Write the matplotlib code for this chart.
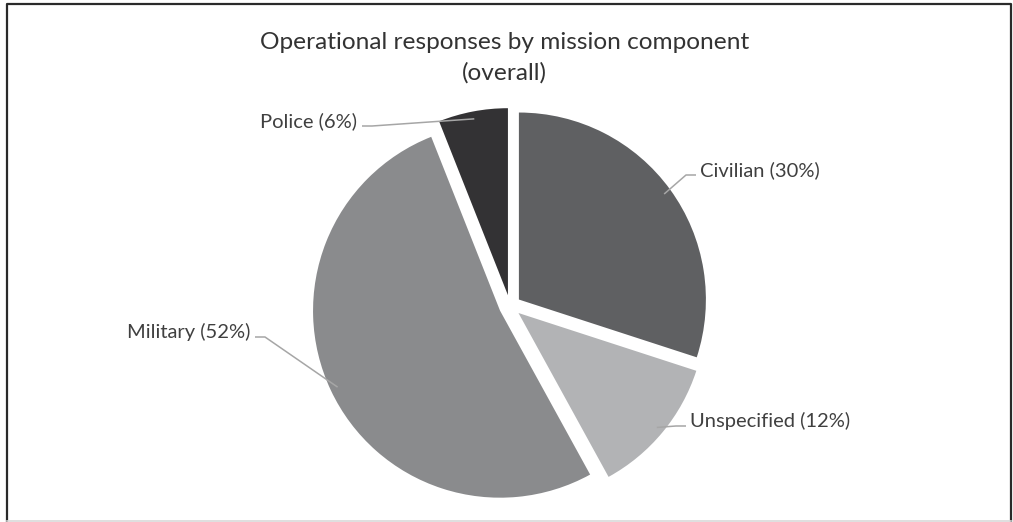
import numpy as np
import matplotlib.pyplot as plt
from matplotlib.lines import Line2D

plt.rcParams['font.family'] = ['Lato', 'DejaVu Sans']

title_lines = ['Operational responses by mission component', '(overall)']
components = ['Civilian', 'Unspecified', 'Military', 'Police']
shares = [30, 12, 52, 6]
colors = ['#5f6062', '#b2b3b5', '#8a8b8d', '#333234']

# label placement in pixel coords (x of text edge, baseline y, side)
label_pos = {
    'Civilian':    (700, 176, 'left'),
    'Unspecified': (690, 427, 'left'),
    'Military':    (250, 338, 'right'),
    'Police':      (357, 127, 'right'),
}

W, H = 1013, 522
fig = plt.figure(figsize=(W / 100, H / 100), dpi=100)
ax = fig.add_axes([0, 0, 1, 1])

cx, cy, R, gap = 510, H - 306, 187, 11
wedges, _ = ax.pie(shares, colors=colors, startangle=90, counterclock=False,
                   radius=R, center=(cx, cy), explode=[gap] * len(shares),
                   wedgeprops=dict(linewidth=0))
ax.set_xlim(0, W)
ax.set_ylim(0, H)
ax.set_aspect('equal')
ax.axis('off')

txt_col = '#404040'
line_col = '#a6a6a6'
for w, name, pct in zip(wedges, components, shares):
    th = np.deg2rad((w.theta1 + w.theta2) / 2)
    ox, oy = w.center
    ax_, ay_ = ox + 0.96 * R * np.cos(th), oy + 0.96 * R * np.sin(th)
    x, yb, side = label_pos[name]
    yb = H - yb
    if side == 'left':
        xe, xk = x - 4, x - 14
    else:
        xe, xk = x + 5, x + 15
    ax.plot([ax_, xk, xe], [ay_, yb + 1, yb + 1], color=line_col, lw=1.1,
            solid_capstyle='butt')
    ax.text(x, yb, f'{name} ({pct}%)', ha=side, va='baseline',
            fontsize=14.5, color=txt_col)

# title, two centred lines
for i, line in enumerate(title_lines):
    ax.text(W / 2 - 2, H - 49 - 31 * i, line, ha='center', va='baseline',
            fontsize=17.6, color='#333333')

# chart border
ax.add_line(Line2D([7, 7, 1011, 1011], [1, H - 4, H - 4, 1], color='#2a2a2a',
                   lw=1.6, clip_on=False))
ax.add_line(Line2D([7, 1011], [1, 1], color='#d9d9d9', lw=1.2, clip_on=False))

fig.savefig('out.png', dpi=100)
